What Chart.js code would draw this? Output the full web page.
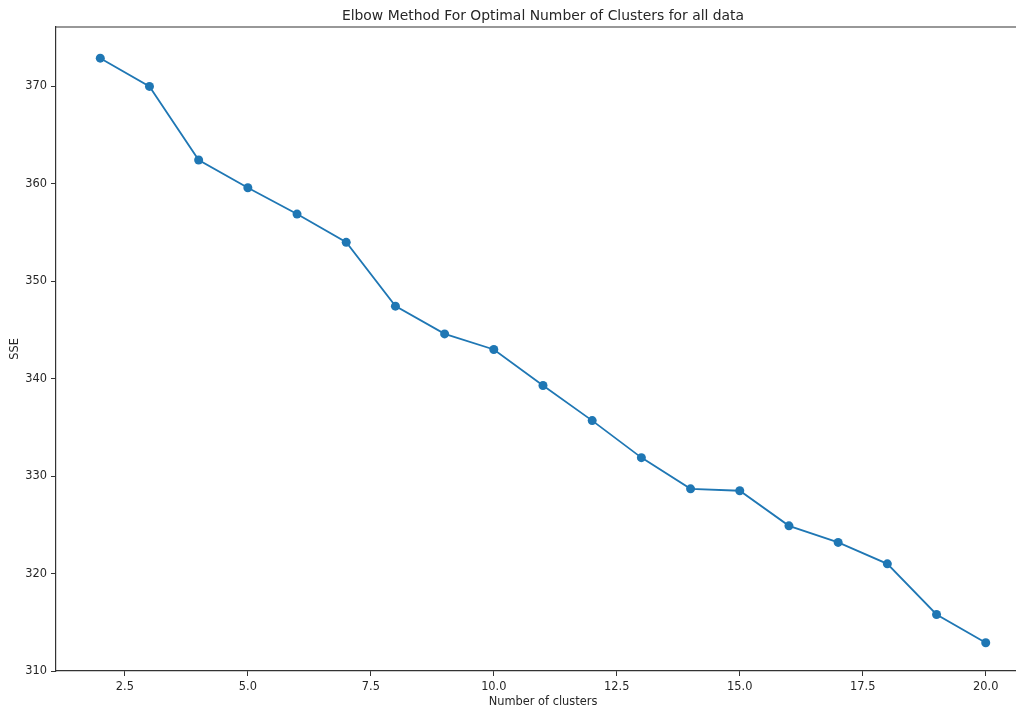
<!DOCTYPE html>
<html>
<head>
<meta charset="utf-8">
<script src="https://cdn.jsdelivr.net/npm/chart.js@4/dist/chart.umd.min.js"></script>
<style>
  html, body { margin: 0; padding: 0; background: #fff; overflow: hidden; }
  #wrap { width: 1040px; height: 710px; }
</style>
</head>
<body>
<div id="wrap"><canvas id="canvas" width="1040" height="710"></canvas></div>
<script>
// cluster counts and their SSE
const clusters = [2, 3, 4, 5, 6, 7, 8, 9, 10, 11, 12, 13, 14, 15, 16, 17, 18, 19, 20];
const sse = [372.9, 370.0, 362.45, 359.6, 356.9, 354.0, 347.45, 344.6, 343.0, 339.3,
  335.7, 331.9, 328.7, 328.5, 324.9, 323.2, 321.0, 315.8, 312.9];
const xTicks = [2.5, 5.0, 7.5, 10.0, 12.5, 15.0, 17.5, 20.0];
const yTicks = [310, 320, 330, 340, 350, 360, 370];

const chartTitle = "Elbow Method For Optimal Number of Clusters for all data";
const FONT = "'DejaVu Sans', sans-serif";
const INK = "#262626";

// matplotlib-ish box: top + right spines and the title above the axes
const framePlugin = {
  id: "frame",
  afterDraw(chart) {
    const { ctx, chartArea: a } = chart;
    ctx.save();
    ctx.strokeStyle = "#333";
    ctx.lineWidth = 1.2;
    ctx.beginPath();
    ctx.moveTo(a.left, a.top);
    ctx.lineTo(a.right, a.top);
    ctx.lineTo(a.right, a.bottom);
    ctx.stroke();
    ctx.fillStyle = INK;
    ctx.font = "13.9px " + FONT;
    ctx.textAlign = "center";
    ctx.textBaseline = "middle";
    ctx.fillText(chartTitle, (a.left + a.right) / 2, 16);
    ctx.restore();
  },
};

drawChart();
function drawChart() {
  const ctx = document.getElementById("canvas").getContext("2d");
  new Chart(ctx, {
    type: "line",
    data: {
      datasets: [
        {
          data: clusters.map((c, i) => ({ x: c, y: sse[i] })),
          borderColor: "#1f77b4",
          backgroundColor: "#1f77b4",
          borderWidth: 1.8,
          pointRadius: 4.5,
          pointBorderWidth: 0,
          pointBackgroundColor: "#1f77b4",
          fill: false,
          tension: 0,
        },
      ],
    },
    options: {
      responsive: false,
      animation: false,
      layout: { padding: { top: 27, right: 10, left: 0, bottom: 0 } },
      plugins: {
        legend: { display: false },
        tooltip: { enabled: false },
        title: { display: false },
      },
      scales: {
        x: {
          type: "linear",
          min: 1.1,
          max: 20.9,
          afterBuildTicks: (s) => { s.ticks = xTicks.map((v) => ({ value: v })); },
          afterFit: (s) => { s.height = 39; },
          ticks: {
            callback: (v) => Number(v).toFixed(1),
            color: INK,
            font: { family: FONT, size: 11.4 },
            padding: 4,
            maxRotation: 0,
          },
          grid: { drawOnChartArea: false, drawTicks: true, tickLength: 5, tickColor: "#333" },
          border: { display: true, color: "#333", width: 1.2 },
          title: {
            display: true,
            text: "Number of clusters",
            color: INK,
            font: { family: FONT, size: 11.4 },
            padding: { top: 0, bottom: 1 },
          },
        },
        y: {
          type: "linear",
          min: 310,
          max: 376.1,
          afterBuildTicks: (s) => { s.ticks = yTicks.map((v) => ({ value: v })); },
          afterFit: (s) => { s.width = 56; },
          ticks: {
            color: INK,
            font: { family: FONT, size: 11.4 },
            padding: 4,
          },
          grid: { drawOnChartArea: false, drawTicks: true, tickLength: 5, tickColor: "#333" },
          border: { display: true, color: "#333", width: 1.2 },
          title: {
            display: true,
            text: "SSE",
            color: INK,
            font: { family: FONT, size: 11.4 },
            padding: { top: 8, bottom: 0 },
          },
        },
      },
    },
    plugins: [framePlugin],
  });
}
</script>
</body>
</html>
